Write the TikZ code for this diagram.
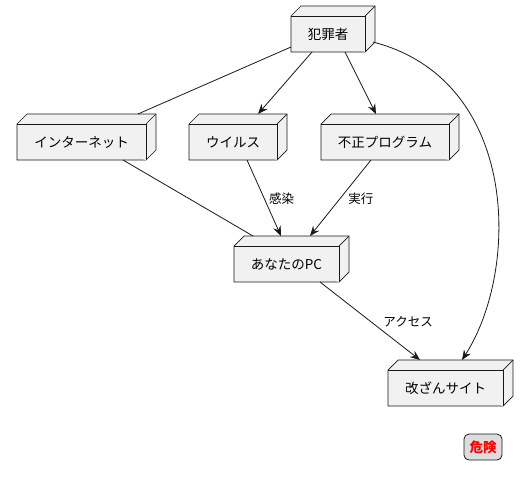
\documentclass[tikz,border=0pt]{standalone}
\usepackage{fontspec}
\setmainfont{Noto Sans CJK JP}
\usetikzlibrary{arrows.meta,calc,backgrounds}
\definecolor{facefill}{HTML}{F1F1F1}
\definecolor{ink}{HTML}{181818}
\definecolor{legfill}{HTML}{DDDDDD}
\definecolor{warnred}{HTML}{FF0000}
\newcommand\cubefaces[1]{%
  \begin{pgfonlayer}{background}
    \filldraw[face] ($(#1.north west)+(0,-10)$) -- ($(#1.north west)+(10,0)$) -- (#1.north east)
      -- ($(#1.south east)+(0,10)$) -- ($(#1.south east)+(-10,0)$) -- (#1.south west) -- cycle;
    \draw[face] ($(#1.north west)+(0,-10)$) -- ($(#1.north east)+(-10,-10)$) -- ($(#1.south east)+(-10,0)$);
    \draw[face] ($(#1.north east)+(-10,-10)$) -- (#1.north east);
  \end{pgfonlayer}}
\begin{document}
\begin{tikzpicture}[x=1pt,y=1pt,
  face/.style={draw=ink, fill=facefill, line width=0.7pt, line join=miter},
  nd/.style={inner sep=0pt, outer sep=0pt, minimum height=46pt,
    text height=22pt, text depth=2pt,
    font=\fontsize{13.5pt}{16pt}\selectfont,
    execute at begin node=\hspace*{-10pt}},
  conn/.style={draw=ink, line width=0.8pt},
  arr/.style={conn, -{Stealth[length=10pt,width=8pt,inset=3.5pt]}},
  lbl/.style={inner sep=0pt, anchor=west, font=\fontsize{12.5pt}{15pt}\selectfont},
  legend/.style={draw=ink, fill=legfill, line width=0.8pt, rounded corners=5pt,
    minimum width=38pt, minimum height=26pt, inner sep=0pt,
    text=warnred, font=\fontsize{13.5pt}{16pt}\selectfont\bfseries}]
\useasboundingbox (0,0) rectangle (527,-479);

\node[nd, minimum width=84pt]  (crim)  at (333,-29)    {犯罪者};
\node[nd, minimum width=139pt] (inet)  at (86.5,-137)  {インターネット};
\node[nd, minimum width=98pt]  (virus) at (238,-137)   {ウイルス};
\node[nd, minimum width=138pt] (fusei) at (390,-137)   {不正プログラム};
\node[nd, minimum width=115pt] (pc)    at (291.5,-259) {あなたのPC};
\node[nd, minimum width=125pt] (site)  at (450.5,-383) {改ざんサイト};
\cubefaces{crim}
\cubefaces{inet}
\cubefaces{virus}
\cubefaces{fusei}
\cubefaces{pc}
\cubefaces{site}

\node[legend] (danger) at (483,-447) {危険};

\draw[conn] ([yshift=5pt]crim.south west) -- ([xshift=51.5pt]inet.north);
\draw[arr] ([xshift=-21pt]crim.south) -- ([xshift=20pt]virus.north);
\draw[arr] ([xshift=12pt]crim.south) -- ([xshift=-14pt]fusei.north);
\draw[arr] ([shift={(-2pt,-13pt)}]crim.east) .. controls (520,-80) and (520,-270) .. ([xshift=11.5pt]site.north);
\draw[conn] ([xshift=36.5pt]inet.south) -- ([xshift=-38.5pt]pc.north);
\draw[arr] ([xshift=9pt]virus.south) -- node[lbl, pos=0.51, xshift=4.5pt] {感染} ([xshift=-10.5pt]pc.north);
\draw[arr] ([xshift=-19pt]fusei.south) -- node[lbl, pos=0.51, xshift=8pt] {実行} ([xshift=18.5pt]pc.north);
\draw[arr] ([xshift=28.5pt]pc.south) -- node[lbl, pos=0.51, xshift=12pt] {アクセス} ([xshift=-30.5pt]site.north);
\end{tikzpicture}
\end{document}
